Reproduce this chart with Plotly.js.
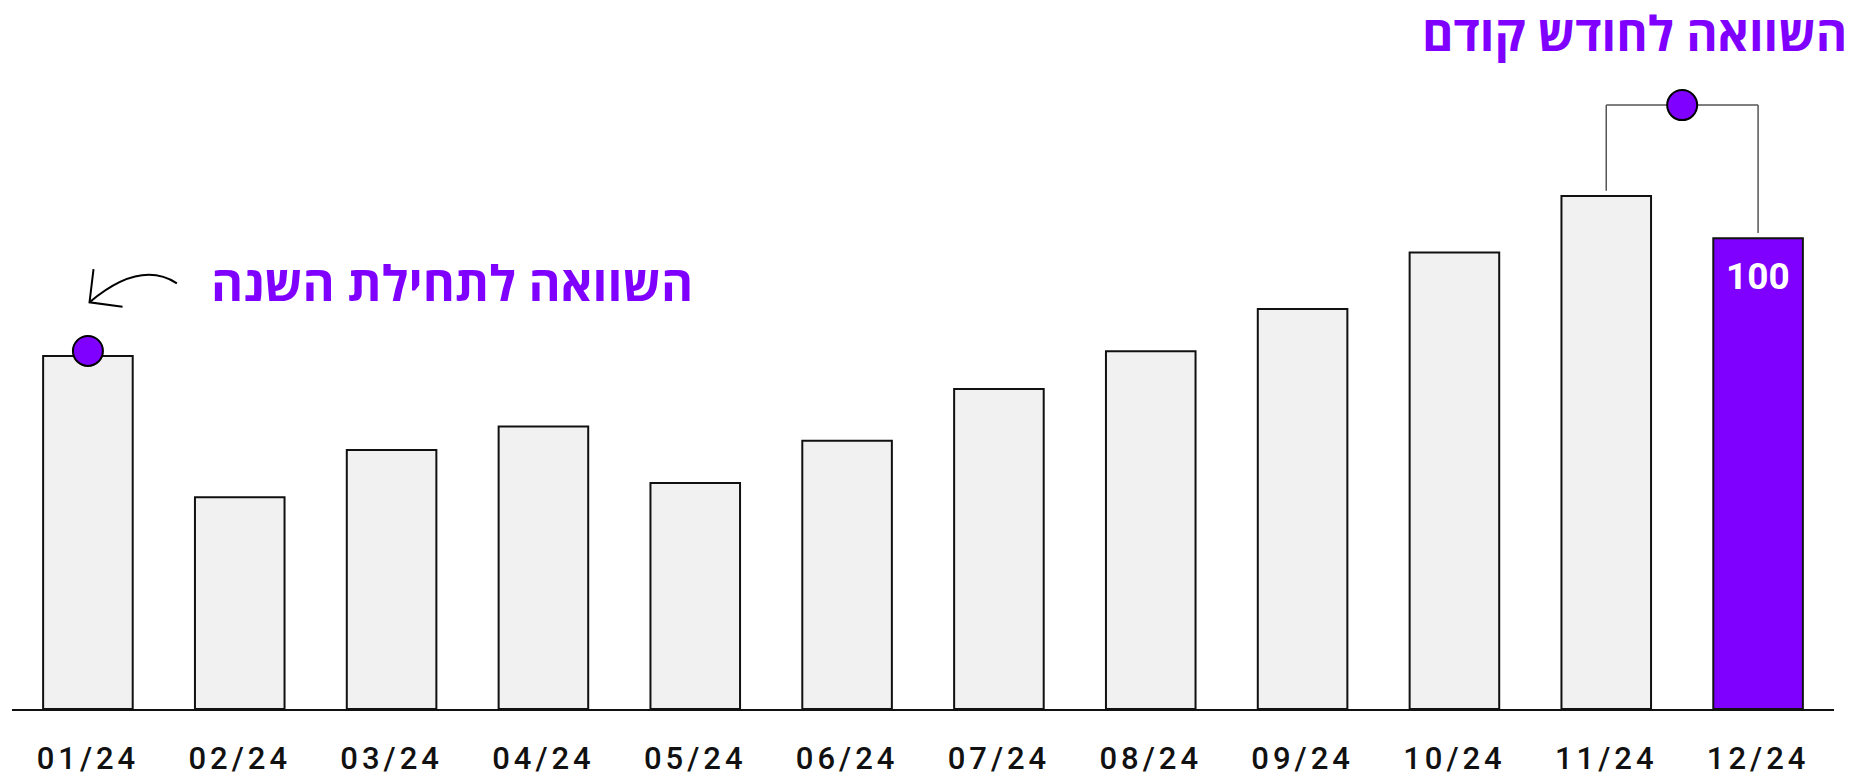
<!DOCTYPE html>
<html>
<head>
<meta charset="utf-8">
<script src="https://cdn.plot.ly/plotly-3.0.1.min.js"></script>
<style>
  html, body { margin: 0; padding: 0; background: #ffffff; }
  #chart { width: 1870px; height: 779px; }
  .xtick text { letter-spacing: 4px; }
</style>
</head>
<body>
<div id="chart"></div>
<script>
// ---- data ----
const months = ["01/24", "02/24", "03/24", "04/24", "05/24", "06/24",
                "07/24", "08/24", "09/24", "10/24", "11/24", "12/24"];
const values = [75, 45, 55, 60, 48, 57, 68, 76, 85, 97, 109, 100];
const titleText = "השוואה לחודש קודם";
const yearLabelText = "השוואה לתחילת השנה";

// ---- styles ----
const PURPLE = "#7f00ff";
const GREY_FILL = "#f1f1f1";
const hebFont = "'Open Sans', 'Liberation Sans', 'DejaVu Sans', sans-serif";

const idx = months.map((_, i) => i);
const last = months.length - 1;
const prev = last - 1;

const barColors = values.map((_, i) => i === last ? PURPLE : GREY_FILL);

const bars = {
  type: "bar",
  x: idx,
  y: values,
  width: 0.59,
  marker: { color: barColors, line: { color: "#111111", width: 2 } },
  hoverinfo: "skip",
  showlegend: false
};

// bracket geometry from data
const bracketTop = Math.max(values[prev], values[last]) + 19.3;
const gap = 1.1;

const dots = {
  type: "scatter",
  mode: "markers",
  x: [0, (prev + last) / 2],
  y: [values[0] + 1.06, bracketTop],
  marker: { size: 30, color: PURPLE, line: { color: "#000000", width: 2 } },
  hoverinfo: "skip",
  showlegend: false
};

const b0 = values[0];
const arrowPath =
  "M " + 0.586 + " " + (b0 + 15.44) +
  " Q " + 0.344 + " " + (b0 + 20.5) + " " + 0.0105 + " " + (b0 + 11.40);
const headPath =
  "M " + 0.037 + " " + (b0 + 18.47) +
  " L " + 0.0105 + " " + (b0 + 11.40) +
  " L " + 0.228 + " " + (b0 + 10.47);

const layout = {
  width: 1870,
  height: 779,
  margin: { l: 12, r: 36, t: 50, b: 70 },
  paper_bgcolor: "#ffffff",
  plot_bgcolor: "#ffffff",
  bargap: 0.41,
  xaxis: {
    type: "linear",
    range: [-0.5, 11.5],
    tickmode: "array",
    tickvals: idx,
    ticktext: months,
    ticks: "",
    showgrid: false,
    zeroline: false,
    showline: true,
    linecolor: "#111111",
    linewidth: 2,
    ticklabelstandoff: 21,
    tickfont: { family: "Roboto, 'DejaVu Sans', sans-serif", size: 31, color: "#111111", weight: 500 },
    fixedrange: true
  },
  yaxis: {
    visible: false,
    range: [0, 140],
    showgrid: false,
    zeroline: false,
    fixedrange: true
  },
  shapes: [
    // bracket: left vertical, top horizontal, right vertical
    { type: "line", xref: "x", yref: "y", x0: prev, x1: prev, y0: values[prev] + gap, y1: bracketTop,
      line: { color: "#555555", width: 1.5 }, layer: "below" },
    { type: "line", xref: "x", yref: "y", x0: prev, x1: last, y0: bracketTop, y1: bracketTop,
      line: { color: "#555555", width: 1.5 }, layer: "below" },
    { type: "line", xref: "x", yref: "y", x0: last, x1: last, y0: values[last] + gap, y1: bracketTop,
      line: { color: "#555555", width: 1.5 }, layer: "below" },
    // curved arrow toward the first bar
    { type: "path", xref: "x", yref: "y", path: arrowPath, line: { color: "#000000", width: 2 } },
    { type: "path", xref: "x", yref: "y", path: headPath, line: { color: "#000000", width: 2 } }
  ],
  annotations: [
    {
      text: titleText,
      xref: "paper", yref: "paper",
      x: 1.0075, y: (709 - 32) / 659,
      xanchor: "right", yanchor: "middle",
      borderpad: 0,
      showarrow: false,
      font: { family: hebFont, size: 48, color: PURPLE, weight: 700 }
    },
    {
      text: yearLabelText,
      xref: "paper", yref: "paper",
      x: 0.3749, y: 0.648,
      xanchor: "right", yanchor: "middle",
      showarrow: false,
      font: { family: hebFont, size: 49, color: PURPLE, weight: 700 }
    },
    {
      text: String(values[last]),
      xref: "x", yref: "y",
      x: last, y: values[last],
      xanchor: "center", yanchor: "middle",
      yshift: -38.7,
      showarrow: false,
      font: { family: "Roboto, 'Open Sans', sans-serif", size: 37, color: "#ffffff", weight: 700 }
    }
  ]
};

Plotly.newPlot("chart", [bars, dots], layout, { displayModeBar: false, staticPlot: true });
</script>
</body>
</html>
